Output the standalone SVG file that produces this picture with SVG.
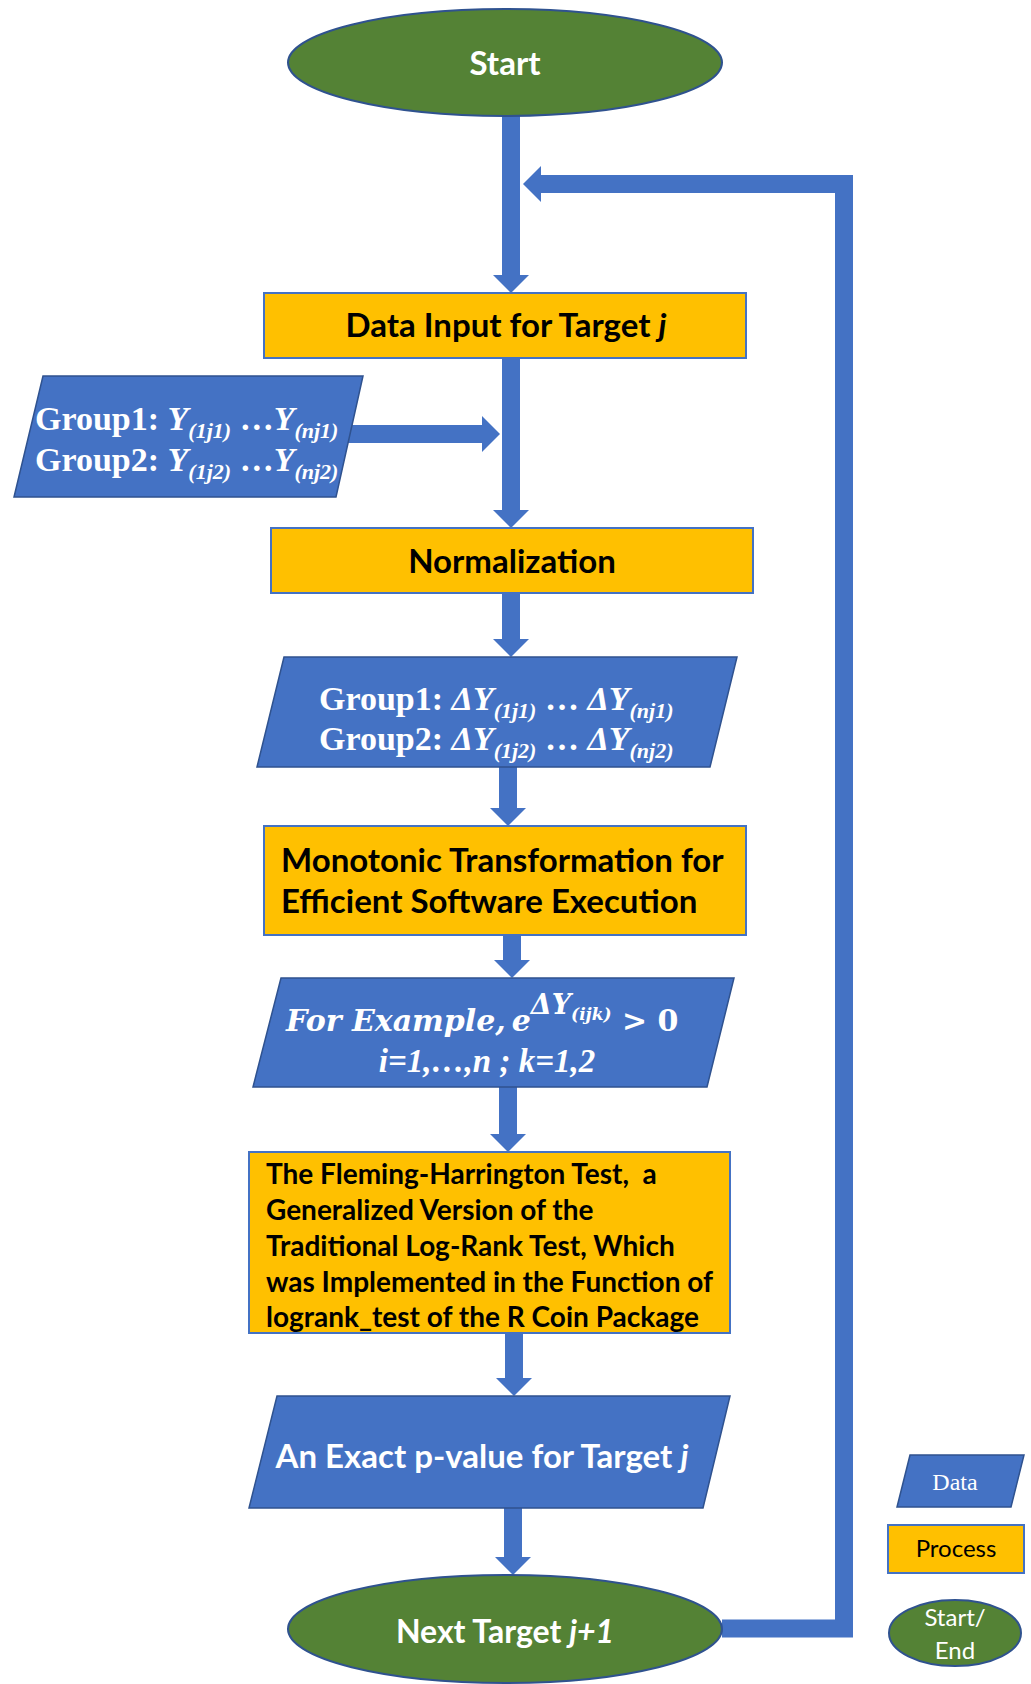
<svg xmlns="http://www.w3.org/2000/svg" width="1031" height="1684" viewBox="0 0 1031 1684">
<style>
.data{fill:#4472C4;stroke:#2F528F;stroke-width:1.5}
.proc{fill:#FFC000;stroke:#4472C4;stroke-width:2}
.term{fill:#548235;stroke:#2F528F;stroke-width:2}
.conn{fill:#4472C4;stroke:none}
.line{fill:none;stroke:#4472C4;stroke-width:18;stroke-linejoin:miter}
.sans{font-family:Lato,"Open Sans","Liberation Sans",sans-serif;font-weight:bold}
.serif{font-family:"Liberation Serif","Times New Roman",serif;font-weight:bold;fill:#fff}
.math{font-family:"DejaVu Serif","Liberation Serif",serif;font-weight:bold;font-style:italic;fill:#fff}
.bi{font-style:italic}
.w{fill:#fff}
.k{fill:#000}
</style>
<g id="connectors">
<polygon class="conn" points="502,116 520,116 520,275 529,275 511,293 493,275 502,275"/>
<polygon class="conn" points="502,358 520,358 520,510 529,510 511,528 493,510 502,510"/>
<polygon class="conn" points="502,593 520,593 520,639 529,639 511,657 493,639 502,639"/>
<polygon class="conn" points="499,767 517,767 517,808 526,808 508,826 490,808 499,808"/>
<polygon class="conn" points="503,934 521,934 521,960 530,960 512,978 494,960 503,960"/>
<polygon class="conn" points="499,1087 517,1087 517,1134 526,1134 508,1152 490,1134 499,1134"/>
<polygon class="conn" points="505,1332 523,1332 523,1378 532,1378 514,1396 496,1378 505,1378"/>
<polygon class="conn" points="504,1508 522,1508 522,1557 531,1557 513,1575 495,1557 504,1557"/>
<polygon class="conn" points="340,425 482,425 482,416 500,434 482,452 482,443 340,443"/>
<path class="line" d="M722,1628.5 H844 V184 H541"/>
<polygon class="conn" points="523,184 541,166 541,202"/>
</g>
<g id="start">
<ellipse class="term" cx="505" cy="62.5" rx="217" ry="53.5"/>
<text class="sans w" x="505" y="75" font-size="33" text-anchor="middle">Start</text>
</g>
<g id="data-input">
<rect class="proc" x="264" y="293" width="482" height="65"/>
<text class="sans k" x="506" y="337" font-size="33" text-anchor="middle">Data Input for Target <tspan class="bi">j</tspan></text>
</g>
<g id="groups-raw">
<polygon class="data" points="43,376 363,376 336,497 14,497"/>
<text class="serif" x="35" y="430" font-size="34">Group1: <tspan class="bi">Y</tspan><tspan class="bi" font-size="22" dy="8">(1j1)</tspan><tspan dy="-8"> …</tspan><tspan class="bi">Y</tspan><tspan class="bi" font-size="22" dy="8">(nj1)</tspan></text>
<text class="serif" x="35" y="471" font-size="34">Group2: <tspan class="bi">Y</tspan><tspan class="bi" font-size="22" dy="8">(1j2)</tspan><tspan dy="-8"> …</tspan><tspan class="bi">Y</tspan><tspan class="bi" font-size="22" dy="8">(nj2)</tspan></text>
</g>
<g id="normalization">
<rect class="proc" x="271" y="528" width="482" height="65"/>
<text class="sans k" x="512" y="573" font-size="33" text-anchor="middle">Normalization</text>
</g>
<g id="groups-delta">
<polygon class="data" points="284,657 737,657 710,767 257,767"/>
<text class="serif" x="319" y="710" font-size="34">Group1: <tspan class="bi">ΔY</tspan><tspan class="bi" font-size="22" dy="8">(1j1)</tspan><tspan dy="-8"> … </tspan><tspan class="bi">ΔY</tspan><tspan class="bi" font-size="22" dy="8">(nj1)</tspan></text>
<text class="serif" x="319" y="750" font-size="34">Group2: <tspan class="bi">ΔY</tspan><tspan class="bi" font-size="22" dy="8">(1j2)</tspan><tspan dy="-8"> … </tspan><tspan class="bi">ΔY</tspan><tspan class="bi" font-size="22" dy="8">(nj2)</tspan></text>
</g>
<g id="monotonic">
<rect class="proc" x="264" y="826" width="482" height="109"/>
<text class="sans k" x="281" y="872" font-size="33">Monotonic Transformation for</text>
<text class="sans k" x="281" y="913" font-size="33">Efficient Software Execution</text>
</g>
<g id="example">
<polygon class="data" points="281,978 734,978 707,1087 253,1087"/>
<text class="math" x="286" y="1031" font-size="30">For Example,<tspan dx="6">e</tspan><tspan font-size="27" dy="-17">ΔY</tspan><tspan font-size="17" dy="6">(ijk)</tspan><tspan dy="11" font-style="normal"> &gt; 0</tspan></text>
<text x="487" y="1072" font-family="Liberation Serif,serif" font-weight="bold" font-style="italic" font-size="33" fill="#fff" text-anchor="middle">i=1,…,n ; k=1,2</text>
</g>
<g id="fleming">
<rect class="proc" x="249" y="1152" width="481" height="181"/>
<text class="sans k" x="266" y="1184" font-size="28">The Fleming-Harrington Test, &#160;a</text>
<text class="sans k" x="266" y="1220" font-size="28">Generalized Version of the</text>
<text class="sans k" x="266" y="1256" font-size="28">Traditional Log-Rank Test, Which</text>
<text class="sans k" x="266" y="1292" font-size="28">was Implemented in the Function of</text>
<text class="sans k" x="266" y="1327" font-size="28">logrank_test of the R Coin Package</text>
</g>
<g id="pvalue">
<polygon class="data" points="277,1396 730,1396 703,1508 249,1508"/>
<text class="sans w" x="482" y="1468" font-size="33" text-anchor="middle">An Exact p-value for Target <tspan class="bi">j</tspan></text>
</g>
<g id="next">
<ellipse class="term" cx="505" cy="1629" rx="217" ry="54"/>
<text class="sans w" x="505" y="1643" font-size="32" text-anchor="middle">Next Target <tspan class="bi">j+1</tspan></text>
</g>
<g id="legend-data">
<polygon class="data" points="910,1455 1024,1455 1011,1507 897,1507"/>
<text x="955" y="1490" font-family="Liberation Serif,serif" font-size="24" fill="#fff" text-anchor="middle">Data</text>
</g>
<g id="legend-process">
<rect class="proc" x="888" y="1525" width="136" height="48"/>
<text x="956" y="1557" font-family="Lato,sans-serif" font-size="24" fill="#000" text-anchor="middle">Process</text>
</g>
<g id="legend-term">
<ellipse class="term" cx="955" cy="1633" rx="66" ry="33"/>
<text x="955" y="1626" font-family="Lato,sans-serif" font-size="24" fill="#fff" text-anchor="middle">Start/</text>
<text x="955" y="1659" font-family="Lato,sans-serif" font-size="24" fill="#fff" text-anchor="middle">End</text>
</g>
</svg>
